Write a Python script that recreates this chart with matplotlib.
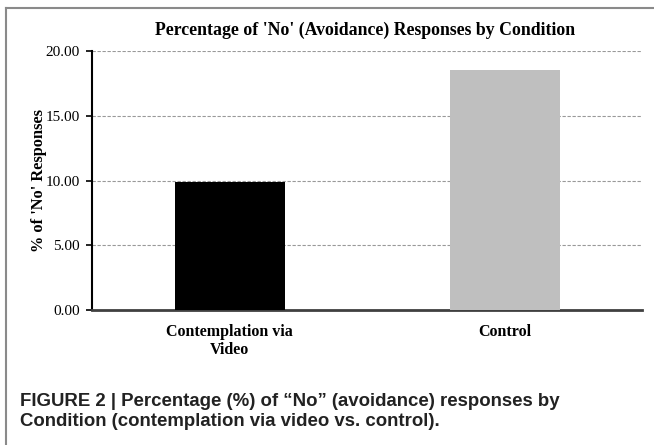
import matplotlib.pyplot as plt
from matplotlib.lines import Line2D

conditions = ['Contemplation via\nVideo', 'Control']
pct_no = [9.85, 18.54]
bar_colors = ['#000000', '#bfbfbf']
y_ticks = [0, 5, 10, 15, 20]

plt.rcParams['font.family'] = ['Liberation Serif', 'DejaVu Serif']

fig = plt.figure(figsize=(6.54, 4.45), dpi=100)
ax = fig.add_axes([92 / 654, 1 - 310 / 445, 550 / 654, 259 / 445])

ax.bar(range(len(conditions)), pct_no, width=0.4, color=bar_colors, zorder=3)
ax.set_xlim(-0.5, 1.5)
ax.set_ylim(0, 20)
ax.set_yticks(y_ticks)
ax.set_yticklabels([f'{v:.2f}' for v in y_ticks], fontsize=11)
ax.set_xticks(range(len(conditions)))
ax.set_xticklabels(conditions, fontsize=11.5, fontweight='bold', linespacing=1.2)
ax.tick_params(axis='x', length=0, pad=10)
ax.tick_params(axis='y', length=4, width=1.2, direction='out', pad=5)

ax.yaxis.grid(True, linestyle=(0, (3, 1.5)), color='#999999', linewidth=0.8, zorder=0)
ax.spines['top'].set_visible(False)
ax.spines['right'].set_visible(False)
ax.spines['left'].set_linewidth(1.5)
ax.spines['left'].set_color('black')
ax.spines['bottom'].set_linewidth(2)
ax.spines['bottom'].set_color('#404040')

ax.set_ylabel("% of 'No' Responses", fontsize=11.75, fontweight='bold', labelpad=-1.5)
fig.text(365 / 654, 1 - 30 / 445, "Percentage of 'No' (Avoidance) Responses by Condition",
         ha='center', va='center', fontsize=12.8, fontweight='bold')

# caption below the chart
cap_lines = ["FIGURE 2 | Percentage (%) of \u201cNo\u201d (avoidance) responses by",
             "Condition (contemplation via video vs. control)."]
for i, line in enumerate(cap_lines):
    fig.text(20 / 654, 1 - (406 + 20 * i) / 445, line, ha='left', va='baseline',
             fontsize=13.4, fontweight='bold', family=['Liberation Sans', 'DejaVu Sans'],
             color='#222222')

# outer frame (left and top edges)
fig.add_artist(Line2D([6 / 654, 6 / 654], [0, 1 - 8 / 445], transform=fig.transFigure,
                      color='#8a8a8a', linewidth=1.5))
fig.add_artist(Line2D([6 / 654, 1], [1 - 8 / 445, 1 - 8 / 445], transform=fig.transFigure,
                      color='#8a8a8a', linewidth=1.5))

fig.savefig('out.png', dpi=100)
